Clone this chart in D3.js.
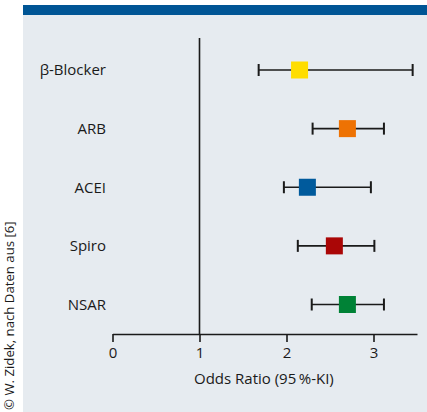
<!DOCTYPE html>
<html>
<head>
<meta charset="utf-8">
<script src="https://cdn.jsdelivr.net/npm/d3@7"></script>
<style>
  html, body { margin: 0; padding: 0; background: #ffffff; }
  svg { display: block; }
  text { font-family: "Open Sans", "Noto Sans", sans-serif; fill: #1a1a1a; }
</style>
</head>
<body>
<script>
// Forest plot: odds ratios with 95% confidence intervals per drug class
const drugs = ["β-Blocker", "ARB", "ACEI", "Spiro", "NSAR"];
const oddsRatio = [2.15, 2.70, 2.24, 2.55, 2.70];
const ciLower = [1.68, 2.30, 1.97, 2.13, 2.29];
const ciUpper = [3.45, 3.12, 2.97, 3.01, 3.12];
const markerColors = ["#FFDD00", "#EE7203", "#005A9C", "#AA0606", "#008236"];
const xTicks = [0, 1, 2, 3];
const axisTitle = "Odds Ratio (95\u2009%-KI)";
const credit = "© W. Zidek, nach Daten aus [6]";

const W = 427, H = 412;
const svg = d3.select("body").append("svg").attr("width", W).attr("height", H);

// panel background and header stripe
svg.append("rect").attr("x", 23).attr("y", 5).attr("width", W - 23).attr("height", H - 5).attr("fill", "#E6EBF0");
svg.append("rect").attr("x", 23).attr("y", 5).attr("width", W - 23).attr("height", 10).attr("fill", "#005595");

const x = d3.scaleLinear().domain([0, 3.5]).range([112.5, 417]);
const y = d3.scalePoint().domain(drugs).range([70, 304.5]);
const axisY = 334;

// x axis
const xAxis = svg.append("g").attr("transform", `translate(0,${axisY})`)
  .call(d3.axisBottom(x).tickValues(xTicks).tickFormat(d3.format("d")).tickSizeInner(8).tickSizeOuter(0).tickPadding(5));
xAxis.select(".domain").attr("stroke", "#1a1a1a").attr("stroke-width", 1.6);
xAxis.selectAll(".tick line").attr("stroke", "#1a1a1a").attr("stroke-width", 1.6);
xAxis.selectAll(".tick text").attr("font-size", 15).attr("fill", "#1a1a1a")
  .attr("font-family", "'Open Sans', 'Noto Sans', sans-serif");

// reference line at OR = 1
svg.append("line").attr("x1", x(1)).attr("x2", x(1)).attr("y1", 38).attr("y2", axisY)
  .attr("stroke", "#1a1a1a").attr("stroke-width", 1.6);

// axis title
svg.append("text").attr("x", x(1.74)).attr("y", 384).attr("text-anchor", "middle")
  .attr("font-size", 15).text(axisTitle);

// category labels
svg.append("g").selectAll("text").data(drugs).join("text")
  .attr("x", 106).attr("y", d => y(d)).attr("dy", "0.35em").attr("text-anchor", "end")
  .attr("font-size", 15).text(d => d);

// confidence intervals
const rows = svg.append("g").selectAll("g").data(drugs).join("g")
  .attr("transform", d => `translate(0,${y(d)})`);
rows.append("line").attr("x1", (d, i) => x(ciLower[i])).attr("x2", (d, i) => x(ciUpper[i]))
  .attr("stroke", "#1a1a1a").attr("stroke-width", 1.6);
rows.append("line").attr("x1", (d, i) => x(ciLower[i])).attr("x2", (d, i) => x(ciLower[i]))
  .attr("y1", -6).attr("y2", 6).attr("stroke", "#1a1a1a").attr("stroke-width", 2);
rows.append("line").attr("x1", (d, i) => x(ciUpper[i])).attr("x2", (d, i) => x(ciUpper[i]))
  .attr("y1", -6).attr("y2", 6).attr("stroke", "#1a1a1a").attr("stroke-width", 2);

// point estimates
const sq = 17;
rows.append("rect").attr("x", (d, i) => x(oddsRatio[i]) - sq / 2).attr("y", -sq / 2)
  .attr("width", sq).attr("height", sq).attr("fill", (d, i) => markerColors[i]);

// source credit, rotated along the left margin
svg.append("text").attr("transform", "translate(14,410) rotate(-90)")
  .attr("font-size", 13.2).text(credit);
</script>
</body>
</html>
